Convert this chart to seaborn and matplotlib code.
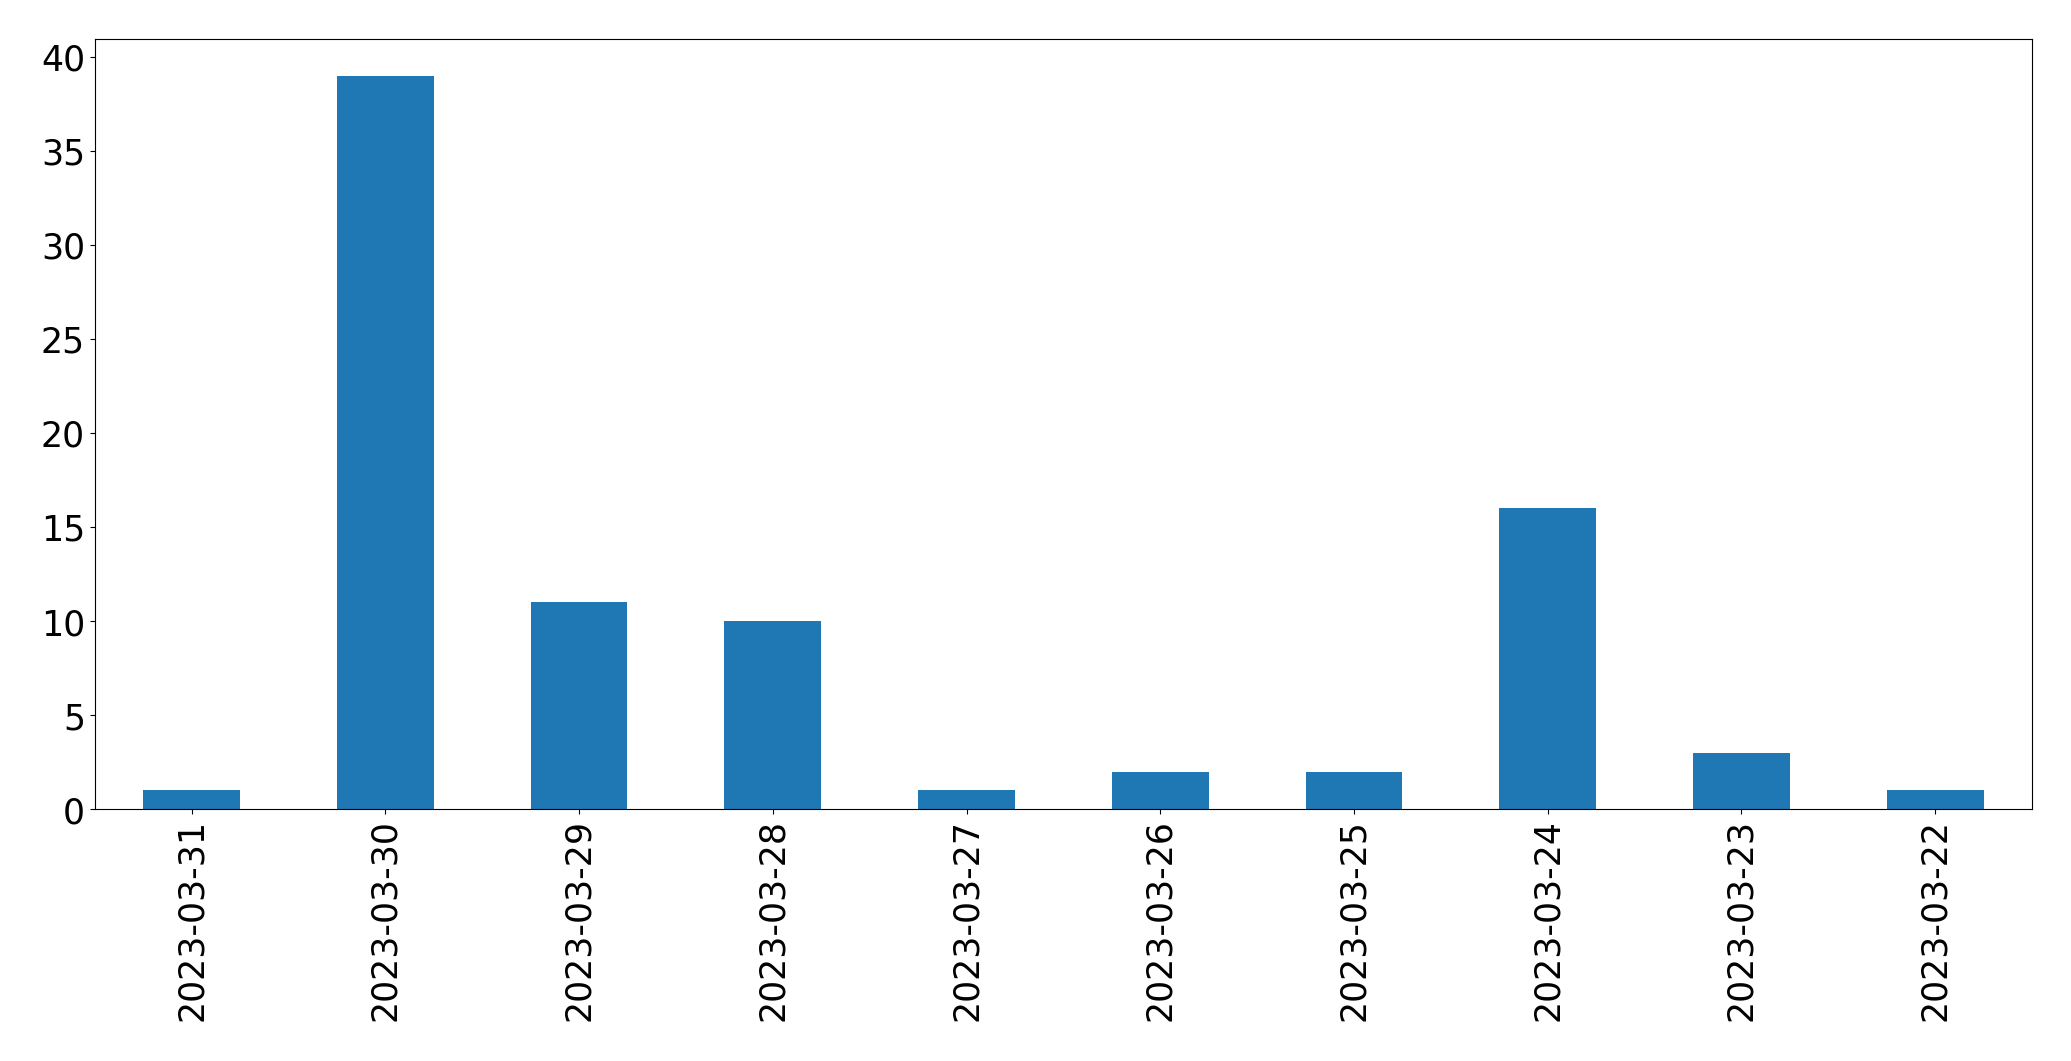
import matplotlib
matplotlib.use("Agg")
import matplotlib.pyplot as plt
import seaborn as sns
import pandas as pd

dates = ["2023-03-31", "2023-03-30", "2023-03-29", "2023-03-28", "2023-03-27",
         "2023-03-26", "2023-03-25", "2023-03-24", "2023-03-23", "2023-03-22"]
counts = [1, 39, 11, 10, 1, 2, 2, 16, 3, 1]

df = pd.DataFrame({"date": dates, "count": counts})

plt.rcParams["font.size"] = 25
fig = plt.figure(figsize=(20.714, 10.614), dpi=100)
ax = fig.add_axes([94.7 / 2071, 1 - 809.3 / 1061, (2031.7 - 94.7) / 2071, (809.3 - 39.3) / 1061])
sns.barplot(data=df, x="date", y="count", order=dates, color="#1f77b4",
            saturation=1, width=0.5, linewidth=0, ax=ax)
ax.set_xlim(-0.5, len(dates) - 0.5)
ax.set_ylim(0, max(counts) * 1.05)
ax.set_xlabel("")
ax.set_ylabel("")
ax.tick_params(axis="x", labelrotation=90, labelsize=25)
ax.tick_params(axis="y", labelsize=25)
fig.savefig("out.png", dpi=100)
